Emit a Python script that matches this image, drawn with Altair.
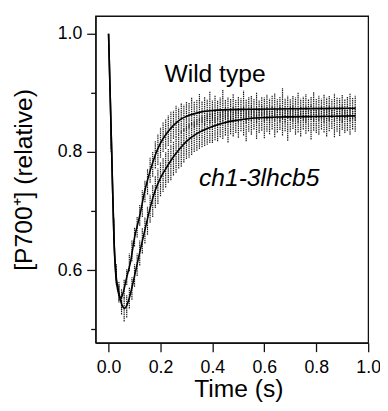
import altair as alt
import pandas as pd

# ---- raw (noisy) trace: sample times and vertical spread of the points ----
raw_t = [0.01, 0.02, 0.03, 0.04, 0.05, 0.06, 0.07, 0.08, 0.09, 0.10,
         0.11, 0.12, 0.13, 0.14, 0.15, 0.16, 0.17, 0.18, 0.19, 0.20,
         0.21, 0.22, 0.23, 0.24, 0.25, 0.26, 0.27, 0.28, 0.29, 0.30,
         0.31, 0.32, 0.33, 0.34, 0.35, 0.36, 0.37, 0.38, 0.39, 0.40,
         0.41, 0.42, 0.43, 0.44, 0.45, 0.46, 0.47, 0.48, 0.49, 0.50,
         0.51, 0.52, 0.53, 0.54, 0.55, 0.56, 0.57, 0.58, 0.59, 0.60,
         0.61, 0.62, 0.63, 0.64, 0.65, 0.66, 0.67, 0.68, 0.69, 0.70,
         0.71, 0.72, 0.73, 0.74, 0.75, 0.76, 0.77, 0.78, 0.79, 0.80,
         0.81, 0.82, 0.83, 0.84, 0.85, 0.86, 0.87, 0.88, 0.89, 0.90,
         0.91, 0.92, 0.93, 0.94, 0.95]

wt_lo = [0.805, 0.655, 0.578, 0.548, 0.532, 0.552, 0.575, 0.598, 0.615, 0.640,
         0.655, 0.675, 0.690, 0.715, 0.728, 0.748, 0.758, 0.772, 0.778, 0.790,
         0.800, 0.805, 0.810, 0.815, 0.822, 0.825, 0.830, 0.832, 0.835, 0.838,
         0.840, 0.845, 0.842, 0.846, 0.845, 0.850, 0.846, 0.852, 0.848, 0.853,
         0.849, 0.855, 0.850, 0.852, 0.856, 0.848, 0.854, 0.851, 0.857, 0.850,
         0.853, 0.856, 0.849, 0.855, 0.852, 0.858, 0.850, 0.854, 0.857, 0.851,
         0.855, 0.849, 0.856, 0.853, 0.858, 0.851, 0.855, 0.850, 0.857, 0.854,
         0.852, 0.858, 0.850, 0.856, 0.853, 0.849, 0.857, 0.854, 0.851, 0.858,
         0.853, 0.856, 0.850, 0.855, 0.852, 0.858, 0.851, 0.856, 0.853, 0.850,
         0.857, 0.854, 0.852, 0.856, 0.853]
wt_hi = [0.835, 0.685, 0.602, 0.575, 0.568, 0.584, 0.602, 0.628, 0.650, 0.672,
         0.690, 0.710, 0.735, 0.752, 0.772, 0.790, 0.800, 0.818, 0.830, 0.842,
         0.850, 0.855, 0.862, 0.868, 0.870, 0.878, 0.875, 0.882, 0.880, 0.886,
         0.884, 0.893, 0.886, 0.888, 0.898, 0.886, 0.894, 0.889, 0.903, 0.887,
         0.895, 0.888, 0.892, 0.905, 0.889, 0.893, 0.890, 0.898, 0.888, 0.894,
         0.891, 0.904, 0.889, 0.893, 0.896, 0.890, 0.901, 0.888, 0.894, 0.892,
         0.897, 0.890, 0.895, 0.899, 0.889, 0.893, 0.908, 0.891, 0.895, 0.889,
         0.896, 0.892, 0.900, 0.890, 0.894, 0.898, 0.889, 0.893, 0.901, 0.891,
         0.895, 0.890, 0.898, 0.892, 0.896, 0.889, 0.899, 0.893, 0.891, 0.897,
         0.890, 0.894, 0.899, 0.892, 0.895]

mut_lo = [0.800, 0.650, 0.575, 0.545, 0.525, 0.513, 0.520, 0.535, 0.550, 0.572,
          0.590, 0.608, 0.628, 0.645, 0.660, 0.680, 0.690, 0.705, 0.712, 0.725,
          0.732, 0.740, 0.748, 0.752, 0.760, 0.765, 0.772, 0.775, 0.782, 0.788,
          0.790, 0.795, 0.800, 0.802, 0.805, 0.808, 0.810, 0.812, 0.815, 0.815,
          0.820, 0.818, 0.825, 0.822, 0.828, 0.816, 0.830, 0.826, 0.832, 0.824,
          0.835, 0.828, 0.818, 0.834, 0.829, 0.838, 0.822, 0.832, 0.836, 0.823,
          0.834, 0.830, 0.838, 0.825, 0.833, 0.837, 0.828, 0.835, 0.819, 0.834,
          0.839, 0.829, 0.833, 0.826, 0.838, 0.831, 0.835, 0.821, 0.836, 0.832,
          0.829, 0.838, 0.833, 0.826, 0.835, 0.839, 0.825, 0.834, 0.827, 0.837,
          0.832, 0.836, 0.829, 0.838, 0.834]
mut_hi = [0.838, 0.688, 0.610, 0.580, 0.562, 0.555, 0.558, 0.570, 0.588, 0.610,
          0.628, 0.650, 0.672, 0.690, 0.708, 0.728, 0.745, 0.760, 0.772, 0.782,
          0.790, 0.800, 0.805, 0.812, 0.818, 0.825, 0.830, 0.835, 0.840, 0.842,
          0.848, 0.850, 0.852, 0.855, 0.858, 0.860, 0.862, 0.865, 0.866, 0.868,
          0.870, 0.868, 0.872, 0.870, 0.874, 0.871, 0.873, 0.876, 0.872, 0.875,
          0.873, 0.877, 0.871, 0.875, 0.878, 0.872, 0.876, 0.874, 0.879, 0.873,
          0.876, 0.872, 0.878, 0.875, 0.873, 0.879, 0.874, 0.877, 0.872, 0.876,
          0.879, 0.873, 0.875, 0.878, 0.872, 0.877, 0.874, 0.880, 0.873, 0.876,
          0.872, 0.878, 0.875, 0.873, 0.879, 0.874, 0.877, 0.872, 0.876, 0.879,
          0.873, 0.877, 0.875, 0.872, 0.876]

# ---- fitted curves ----
wt_fit_t = [0.0, 0.012, 0.021, 0.028, 0.036, 0.043, 0.048, 0.055, 0.07, 0.085,
            0.10, 0.12, 0.14, 0.16, 0.18, 0.20, 0.225, 0.25, 0.28, 0.31,
            0.35, 0.40, 0.50, 0.70, 0.95]
wt_fit = [1.0, 0.80, 0.65, 0.59, 0.565, 0.555, 0.553, 0.56, 0.588, 0.615,
          0.655, 0.692, 0.735, 0.768, 0.795, 0.815, 0.832, 0.845, 0.856, 0.862,
          0.867, 0.870, 0.872, 0.873, 0.874]

mut_fit_t = [0.0, 0.012, 0.021, 0.028, 0.036, 0.045, 0.055, 0.062, 0.07, 0.08,
             0.10, 0.12, 0.14, 0.16, 0.18, 0.20, 0.225, 0.25, 0.275, 0.30,
             0.34, 0.40, 0.45, 0.50, 0.55, 0.65, 0.80, 0.95]
mut_fit = [1.0, 0.80, 0.65, 0.595, 0.57, 0.55, 0.538, 0.535, 0.54, 0.553,
           0.59, 0.63, 0.668, 0.705, 0.735, 0.756, 0.775, 0.792, 0.806, 0.818,
           0.831, 0.843, 0.85, 0.854, 0.857, 0.859, 0.860, 0.861]

# ---- annotations ----
label_text = ["Wild type", "ch1-3lhcb5"]
label_t = [0.41, 0.58]
label_v = [0.932, 0.755]
label_style = ["normal", "italic"]

x_ticks = [0.0, 0.1, 0.2, 0.3, 0.4, 0.5, 0.6, 0.7, 0.8, 0.9, 1.0]
y_ticks = [0.5, 0.6, 0.7, 0.8, 0.9, 1.0]

raw = pd.concat([
    pd.DataFrame({"t": raw_t, "lo": wt_lo, "hi": wt_hi, "s": "wt"}),
    pd.DataFrame({"t": raw_t, "lo": mut_lo, "hi": mut_hi, "s": "mut"}),
])
fits = pd.concat([
    pd.DataFrame({"t": wt_fit_t, "v": wt_fit, "s": "wt"}),
    pd.DataFrame({"t": mut_fit_t, "v": mut_fit, "s": "mut"}),
])
labels = pd.DataFrame({"text": label_text, "t": label_t, "v": label_v,
                       "style": label_style})

FONT = "Liberation Sans"
major = "abs(round(datum.value * 10)) % 2 == 0"

xscale = alt.Scale(domain=[-0.05, 1.0], nice=False, zero=False)
yscale = alt.Scale(domain=[0.477, 1.03], nice=False, zero=False)

xaxis = alt.Axis(
    title="Time (s)", values=x_ticks, format=".1f",
    labelExpr=f"{major} ? datum.label : ''",
    tickSize={"condition": {"test": major, "value": 9}, "value": 5},
    labelFlush=False, labelOverlap=False, labelPadding=7, titlePadding=1,
    titleX=145,
    grid=False,
)
yaxis = alt.Axis(
    title="[P700⁺] (relative)", values=y_ticks, format=".1f",
    labelExpr=f"{major} ? datum.label : ''",
    tickSize={"condition": {"test": major, "value": 9}, "value": 5},
    labelFlush=False, labelOverlap=False, labelPadding=5, titlePadding=21,
    grid=False,
)

noise = alt.Chart(raw).mark_rule(
    color="#1e1e1e", strokeWidth=1.2, strokeDash=[1.5, 0.7]
).encode(
    x=alt.X("t:Q", scale=xscale, axis=xaxis),
    y=alt.Y("lo:Q", scale=yscale, axis=yaxis),
    y2="hi:Q",
    detail="s:N",
)

fit_lines = alt.Chart(fits).mark_line(
    color="#000000", strokeWidth=1.6, interpolate="monotone"
).encode(
    x=alt.X("t:Q", scale=xscale),
    y=alt.Y("v:Q", scale=yscale),
    detail="s:N",
)

text_normal = alt.Chart(labels[labels["style"] == "normal"]).mark_text(
    font=FONT, fontSize=25, color="black", baseline="middle", align="center"
).encode(x=alt.X("t:Q", scale=xscale), y=alt.Y("v:Q", scale=yscale), text="text:N")

text_italic = alt.Chart(labels[labels["style"] == "italic"]).mark_text(
    font=FONT, fontSize=25, fontStyle="italic", color="black",
    baseline="middle", align="center"
).encode(x=alt.X("t:Q", scale=xscale), y=alt.Y("v:Q", scale=yscale), text="text:N")

chart = alt.layer(noise, fit_lines, text_normal, text_italic).properties(
    width=277, height=332,
    autosize=alt.AutoSizeParams(type="none"),
    padding={"left": 89, "top": 5, "right": 12, "bottom": 58},
).configure_view(
    stroke="#111111", strokeWidth=1.3
).configure_axis(
    domainColor="#111111", domainWidth=1.3, tickColor="#111111", tickWidth=1.3,
    labelFont=FONT, labelFontSize=18, labelColor="black",
    titleFont=FONT, titleFontSize=25, titleFontWeight="normal", titleColor="black",
)

chart.save("out.html", embed_options={"renderer": "svg", "actions": False})
